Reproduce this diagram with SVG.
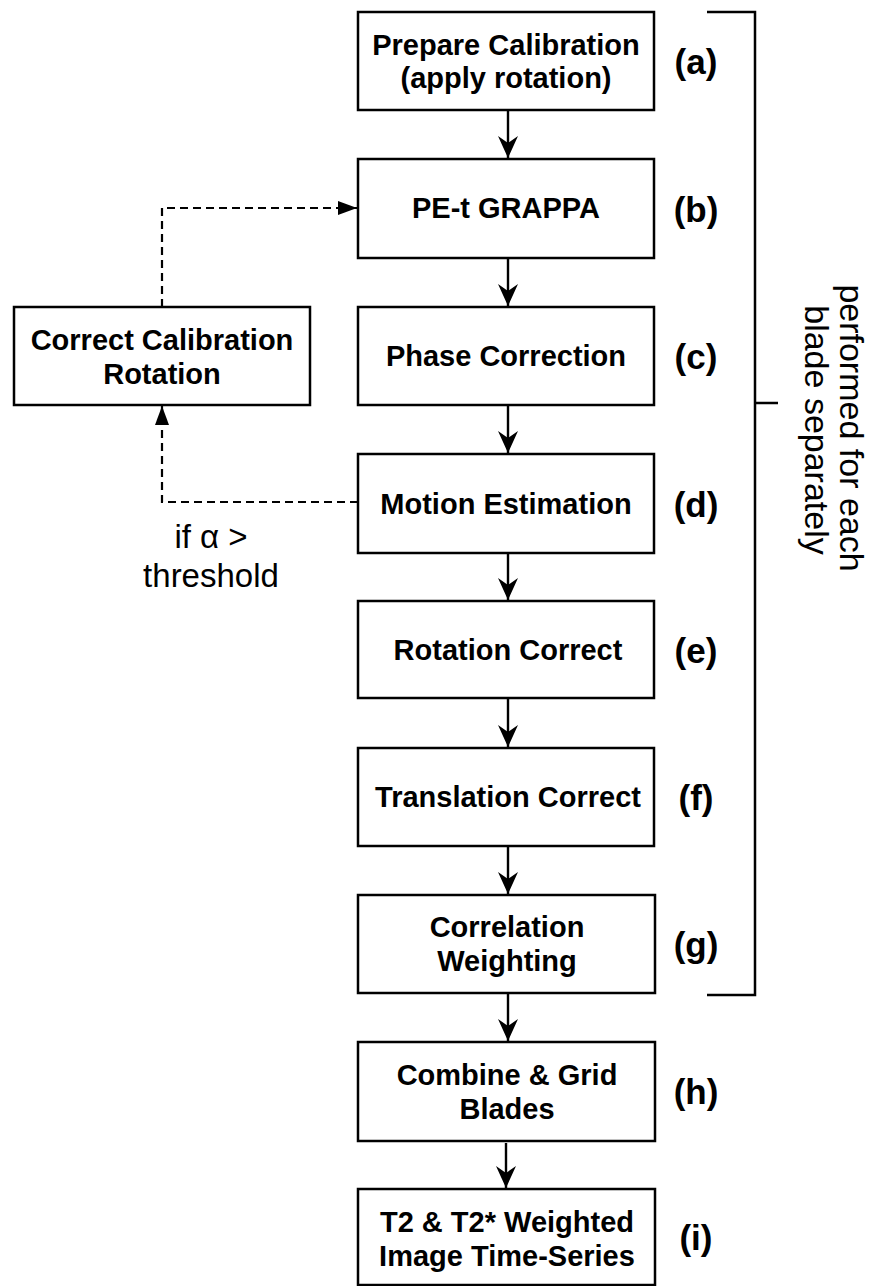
<svg xmlns="http://www.w3.org/2000/svg" width="871" height="1286" viewBox="0 0 871 1286">
<style>
.box{fill:#fff;stroke:#000;stroke-width:2.5}
.t{font-family:"Liberation Sans",Arial,Helvetica,sans-serif;font-weight:bold;font-size:29px;text-anchor:middle;fill:#000}
.lbl{font-family:"Liberation Sans",Arial,Helvetica,sans-serif;font-weight:bold;font-size:35px;text-anchor:middle;fill:#000}
.reg{font-family:"Liberation Sans",Arial,Helvetica,sans-serif;font-size:33px;text-anchor:middle;fill:#000}
.side{font-family:"Liberation Sans",Arial,Helvetica,sans-serif;font-size:34px;text-anchor:middle;fill:#000}
.c{fill:none;stroke:#000;stroke-width:2.4}
.d{fill:none;stroke:#000;stroke-width:2.2;stroke-dasharray:8 5}
</style>
<defs>
<marker id="ah" markerUnits="userSpaceOnUse" markerWidth="26" markerHeight="26" viewBox="-24 -13 26 26" refX="0" refY="0" orient="auto">
<path d="M0,0 L-22,-10 L-15,0 L-22,10 Z" fill="#000"/>
</marker>
<marker id="tri" markerUnits="userSpaceOnUse" markerWidth="22" markerHeight="16" viewBox="-20 -8 22 16" refX="0" refY="0" orient="auto">
<path d="M0,0 L-19,-7 L-19,7 Z" fill="#000"/>
</marker>
</defs>

<g id="connectors">
<path class="c" d="M508,110 V158" marker-end="url(#ah)"/>
<path class="c" d="M508,258 V306" marker-end="url(#ah)"/>
<path class="c" d="M508,405 V453" marker-end="url(#ah)"/>
<path class="c" d="M508,553 V600" marker-end="url(#ah)"/>
<path class="c" d="M508,698 V747" marker-end="url(#ah)"/>
<path class="c" d="M508,846 V894" marker-end="url(#ah)"/>
<path class="c" d="M508,993 V1041" marker-end="url(#ah)"/>
<path class="c" d="M506,1143 V1188" marker-end="url(#ah)"/>
<path class="d" d="M162,307 V208 H357" marker-end="url(#tri)"/>
<path class="d" d="M358,502 H162 V406" marker-end="url(#tri)"/>
</g>

<g id="bracket">
<path class="c" d="M707,12 H755 V995 H707 M755,403 H778" style="stroke-width:2.5"/>
<text class="side" transform="translate(840,428) rotate(90)">performed for each</text>
<text class="side" transform="translate(805,430) rotate(90)">blade separately</text>
</g>

<g id="node-a">
<rect class="box" x="358" y="12" width="296" height="98"/>
<text class="t" x="506" y="55">Prepare Calibration</text>
<text class="t" x="506" y="88">(apply rotation)</text>
<text class="lbl" x="696" y="74">(a)</text>
</g>
<g id="node-b">
<rect class="box" x="358" y="159" width="296" height="99"/>
<text class="t" x="506" y="218">PE-t GRAPPA</text>
<text class="lbl" x="696" y="222">(b)</text>
</g>
<g id="node-c">
<rect class="box" x="358" y="307" width="296" height="98"/>
<text class="t" x="506" y="366">Phase Correction</text>
<text class="lbl" x="696" y="369">(c)</text>
</g>
<g id="node-d">
<rect class="box" x="358" y="454" width="296" height="99"/>
<text class="t" x="506" y="514">Motion Estimation</text>
<text class="lbl" x="696" y="517">(d)</text>
</g>
<g id="node-e">
<rect class="box" x="358" y="601" width="296" height="97"/>
<text class="t" x="508" y="660">Rotation Correct</text>
<text class="lbl" x="696" y="663">(e)</text>
</g>
<g id="node-f">
<rect class="box" x="358" y="748" width="296" height="98"/>
<text class="t" x="508" y="807">Translation Correct</text>
<text class="lbl" x="696" y="810">(f)</text>
</g>
<g id="node-g">
<rect class="box" x="358" y="895" width="297" height="98"/>
<text class="t" x="507" y="937">Correlation</text>
<text class="t" x="507" y="971">Weighting</text>
<text class="lbl" x="696" y="957">(g)</text>
</g>
<g id="node-h">
<rect class="box" x="358" y="1042" width="297" height="99"/>
<text class="t" x="507" y="1085">Combine &amp; Grid</text>
<text class="t" x="507" y="1119">Blades</text>
<text class="lbl" x="696" y="1104">(h)</text>
</g>
<g id="node-i">
<rect class="box" x="358" y="1189" width="297" height="96"/>
<text class="t" x="507" y="1232">T2 &amp; T2* Weighted</text>
<text class="t" x="507" y="1266">Image Time-Series</text>
<text class="lbl" x="696" y="1250">(i)</text>
</g>
<g id="node-correct">
<rect class="box" x="14" y="307" width="296" height="98"/>
<text class="t" x="162" y="350">Correct Calibration</text>
<text class="t" x="162" y="384">Rotation</text>
</g>
<g id="condition">
<text class="reg" x="211" y="548">if α &gt;</text>
<text class="reg" x="211" y="587">threshold</text>
</g>
</svg>
